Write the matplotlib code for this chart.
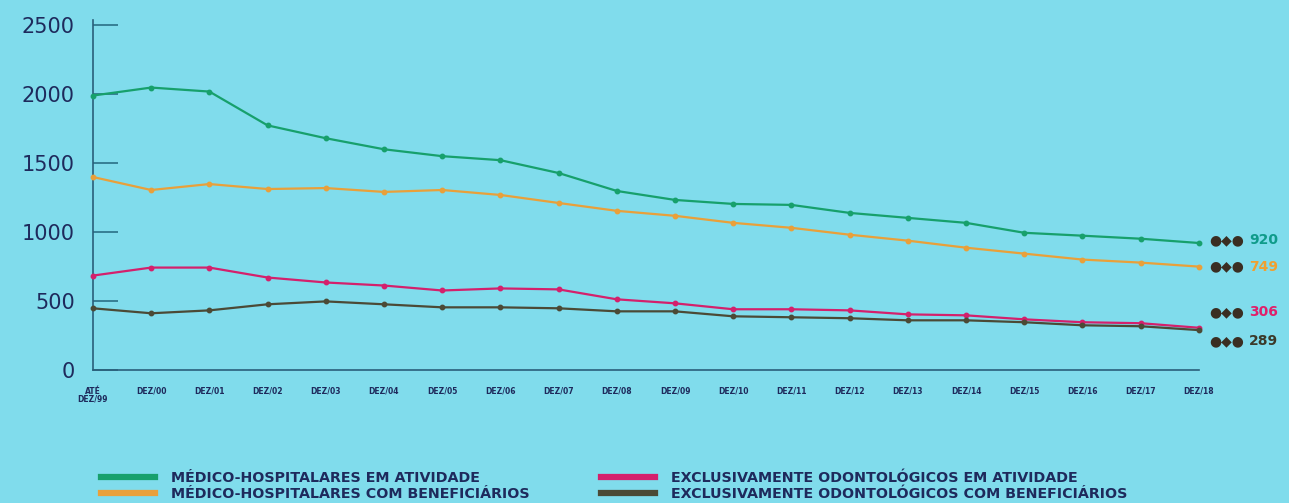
import matplotlib
matplotlib.use('Agg')
import matplotlib.pyplot as plt
from matplotlib.lines import Line2D
import numpy as np

# Operadoras (quantidade) por ano
periodos = ['ATÉ\nDEZ/99', 'DEZ/00', 'DEZ/01', 'DEZ/02', 'DEZ/03', 'DEZ/04', 'DEZ/05',
            'DEZ/06', 'DEZ/07', 'DEZ/08', 'DEZ/09', 'DEZ/10', 'DEZ/11', 'DEZ/12',
            'DEZ/13', 'DEZ/14', 'DEZ/15', 'DEZ/16', 'DEZ/17', 'DEZ/18']

med_atividade = [1988, 2046, 2017, 1772, 1679, 1599, 1549, 1520, 1427, 1297,
                 1232, 1203, 1196, 1138, 1102, 1066, 994, 973, 951, 920]
med_benef = [1398, 1304, 1347, 1311, 1318, 1290, 1304, 1268, 1210, 1153,
             1117, 1066, 1030, 980, 937, 886, 843, 800, 778, 749]
odonto_atividade = [684, 742, 742, 670, 634, 612, 576, 591, 584, 512,
                    483, 440, 440, 432, 403, 396, 367, 346, 339, 306]
odonto_benef = [447, 411, 432, 476, 497, 476, 454, 454, 447, 425,
                425, 389, 382, 375, 360, 360, 346, 324, 317, 289]

nomes = ['MÉDICO-HOSPITALARES EM ATIVIDADE',
         'MÉDICO-HOSPITALARES COM BENEFICIÁRIOS',
         'EXCLUSIVAMENTE ODONTOLÓGICOS EM ATIVIDADE',
         'EXCLUSIVAMENTE ODONTOLÓGICOS COM BENEFICIÁRIOS']
cores = ['#17a06c', '#e9a03a', '#d4206c', '#4b4a36']
cores_rotulo = ['#0f9b8a', '#f0a030', '#e0206a', '#3b3a2a']
# deslocamento vertical dos rotulos finais (pontos) para nao sobrepor
desloc = [2, 0, 11, -8]

bg = '#80dcec'
navy = '#1e2a5c'

fig = plt.figure(figsize=(12.89, 5.03), dpi=100, facecolor=bg)
ax = fig.add_axes([0.0721, 0.2644, 0.858, 0.696])
ax.set_facecolor(bg)

x = np.arange(len(periodos))
series = [med_atividade, med_benef, odonto_atividade, odonto_benef]
for vals, nome, cor, cr, dy in zip(series, nomes, cores, cores_rotulo, desloc):
    ax.plot(x, vals, color=cor, lw=1.6, marker='o', ms=3.2,
            mfc=cor, mec=cor, label=nome, clip_on=False, zorder=3)
    # marcador final e valor
    ax.annotate('●◆●', xy=(x[-1], vals[-1]), xytext=(20, dy), textcoords='offset points',
                ha='center', va='center', fontsize=10, color='#3a2e22',
                annotation_clip=False)
    ax.annotate(str(vals[-1]), xy=(x[-1], vals[-1]), xytext=(36, dy),
                textcoords='offset points', ha='left', va='center',
                fontsize=10, fontweight='bold', color=cr, annotation_clip=False)

ax.set_xlim(0, len(periodos) - 1)
ax.set_ylim(0, 2536)
ax.set_yticks([0, 500, 1000, 1500, 2000, 2500])
ax.tick_params(axis='y', direction='in', length=18, width=1.2, color='#2a6f86',
               labelsize=15, labelcolor=navy, pad=13)
for t in ax.get_yticklabels():
    t.set_fontweight('medium')
ax.set_xticks(x)
ax.set_xticklabels(periodos, fontsize=5.5, fontweight='bold', color=navy,
                   linespacing=0.9)
ax.tick_params(axis='x', length=0, pad=12)

for s in ['top', 'right']:
    ax.spines[s].set_visible(False)
for s in ['left', 'bottom']:
    ax.spines[s].set_color('#2a5f7a')
    ax.spines[s].set_linewidth(1.2)

hs = [Line2D([0], [0], color=c, lw=4.5) for c in cores]
leg = fig.legend(hs, nomes, loc='upper left', bbox_to_anchor=(0.068, 0.09), ncol=2,
                 frameon=False, handlelength=3.8, columnspacing=5.0,
                 labelspacing=0.15, handletextpad=1.1,
                 prop={'weight': 'bold', 'size': 10.3})
for t in leg.get_texts():
    t.set_color(navy)

fig.savefig('out.png', dpi=100, facecolor=bg)
